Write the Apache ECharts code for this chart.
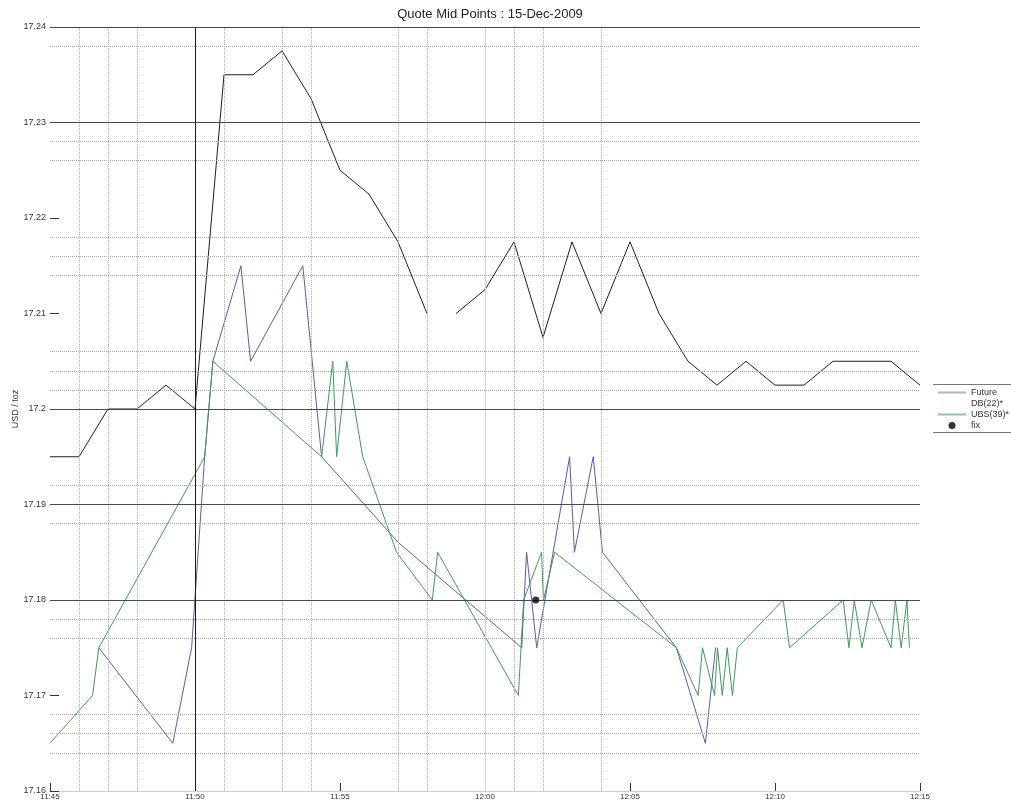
<!DOCTYPE html>
<html>
<head>
<meta charset="utf-8">
<script src="https://cdn.jsdelivr.net/npm/echarts@6/dist/echarts.min.js"></script>
<style>
  html, body { margin: 0; padding: 0; background: #fff; }
  #chart { width: 1011px; height: 803px; }
</style>
</head>
<body>
<div id="chart"></div>
<script>
// Futures mid price, one quote per minute (null = no quote)
const futureTimes = ['11:45:00','11:46:00','11:47:00','11:48:00','11:49:00','11:50:00','11:51:00','11:52:00',
  '11:53:00','11:54:00','11:55:00','11:56:00','11:57:00','11:58:00','11:58:30','11:59:00','12:00:00','12:01:00',
  '12:02:00','12:03:00','12:04:00','12:05:00','12:06:00','12:07:00','12:08:00','12:09:00','12:10:00','12:11:00',
  '12:12:00','12:13:00','12:14:00','12:15:00'];
const futureValues = [17.195,17.195,17.2,17.2,17.2025,17.2,17.235,17.235,
  17.2375,17.2325,17.225,17.2225,17.2175,17.21,null,17.21,17.2125,17.2175,
  17.2075,17.2175,17.21,17.2175,17.21,17.205,17.2025,17.205,17.2025,17.2025,
  17.205,17.205,17.205,17.2025];

// DB quote mid points
const dbTimes = ['11:46:41','11:49:14','11:49:53','11:50:20','11:50:37','11:51:35','11:51:55','11:53:43',
  '11:54:22','11:57:01','12:01:16','12:01:26','12:01:47','12:02:55','12:03:05','12:03:44','12:04:03',
  '12:06:36','12:07:36','12:07:57'];
const dbValues = [17.175,17.165,17.175,17.195,17.205,17.215,17.205,17.215,
  17.195,17.186,17.175,17.185,17.175,17.195,17.185,17.195,17.185,
  17.175,17.165,17.175];

// UBS quote mid points
const ubsTimes = ['11:45:00','11:46:28','11:46:41','11:50:20','11:50:37','11:54:22','11:54:45','11:54:53',
  '11:55:14','11:55:47','11:56:57','11:58:11','11:58:22','12:01:09','12:01:20','12:01:57','12:02:01',
  '12:02:24','12:06:36','12:07:21','12:07:30','12:07:55','12:08:01','12:08:11','12:08:21','12:08:32',
  '12:08:42','12:10:17','12:10:30','12:12:21','12:12:33','12:12:44','12:13:00','12:13:19','12:14:00',
  '12:14:09','12:14:21','12:14:33','12:14:38'];
const ubsValues = [17.165,17.17,17.175,17.195,17.205,17.195,17.205,17.195,
  17.205,17.195,17.185,17.18,17.185,17.17,17.18,17.185,17.18,
  17.185,17.175,17.17,17.175,17.17,17.175,17.17,17.175,17.17,
  17.175,17.18,17.175,17.18,17.175,17.18,17.175,17.18,17.175,
  17.18,17.175,17.18,17.175];

// Fixing
const fixTime = '12:01:45';
const fixValue = 17.18;

// Axis ranges and reference lines
const xStart = '11:45', xEnd = '12:15', xStepMinutes = 5;
const yMin = 17.16, yMax = 17.24, yStep = 0.01;
const solidLevels = [17.24, 17.23, 17.2, 17.19, 17.18];
const dottedLevels = [17.238, 17.228, 17.226, 17.218, 17.216, 17.214, 17.206, 17.204, 17.202,
  17.192, 17.188, 17.178, 17.176, 17.168, 17.166, 17.164];
const dottedMinutes = ['11:46','11:47','11:48','11:51','11:53','11:54','11:57','11:58','12:01','12:02','12:04'];
const markerMinute = '11:50';
const noonMinute = '12:00';

function toMin(s) {
  const p = s.split(':').map(Number);
  return p[0] * 60 + p[1] + (p[2] || 0) / 60;
}
function fmtMin(v) {
  const h = Math.floor(v / 60 + 1e-9), m = Math.round(v - h * 60);
  return h + ':' + String(m).padStart(2, '0');
}
function pairs(times, values) {
  return times.map((t, i) => [toMin(t), values[i] === null ? '-' : values[i]]);
}

const FONT = 'Arial, "Liberation Sans", sans-serif';

const markData = [];
dottedLevels.forEach(v => markData.push({ yAxis: v, lineStyle: { color: '#a0a0a0', width: 1, type: [1, 1] } }));
dottedMinutes.forEach(t => markData.push({ xAxis: toMin(t), lineStyle: { color: '#b0b0b0', width: 1, type: [1, 1] } }));
markData.push({ xAxis: toMin(noonMinute), lineStyle: { color: '#d0d0d0', width: 1, type: 'solid' } });
solidLevels.forEach(v => markData.push({ yAxis: v, lineStyle: { color: '#4a4a4a', width: 1, type: 'solid' } }));
markData.push({ xAxis: toMin(markerMinute), lineStyle: { color: '#1a1a1a', width: 1, type: 'solid' } });

const hidden = { opacity: 0 };

const chart = echarts.init(document.getElementById('chart'), null, { renderer: 'canvas' });
chart.setOption({
  animation: false,
  backgroundColor: '#fff',
  textStyle: { fontFamily: FONT },
  title: {
    text: 'Quote Mid Points : 15-Dec-2009',
    left: 485, top: 3, textAlign: 'center',
    textStyle: { fontSize: 13, fontWeight: 'normal', color: '#222', fontFamily: FONT }
  },
  grid: { left: 50, right: 91, top: 27, bottom: 12, containLabel: false, outerBoundsMode: 'none' },
  legend: {
    orient: 'vertical', left: 937, top: 388, padding: 0,
    itemWidth: 28, itemHeight: 7, itemGap: 2,
    textStyle: { fontSize: 9, color: '#333', fontFamily: FONT },
    data: [
      { name: 'Future', lineStyle: { color: '#b5b5b5' }, itemStyle: hidden },
      { name: 'DB(22)*', lineStyle: hidden, itemStyle: hidden },
      { name: 'UBS(39)*', lineStyle: { color: '#8cc79a' }, itemStyle: hidden },
      { name: 'fix' }
    ]
  },
  graphic: [
    { type: 'line', shape: { x1: 933, y1: 384.5, x2: 1011, y2: 384.5 }, style: { stroke: '#777', lineWidth: 1 }, silent: true },
    { type: 'line', shape: { x1: 933, y1: 432.5, x2: 1011, y2: 432.5 }, style: { stroke: '#777', lineWidth: 1 }, silent: true }
  ],
  xAxis: {
    type: 'value',
    min: toMin(xStart), max: toMin(xEnd), interval: xStepMinutes,
    axisLine: { show: true, lineStyle: { color: '#cfcfcf', width: 1 } },
    axisTick: { show: true, inside: true, length: 8, lineStyle: { color: '#333' } },
    axisLabel: { formatter: v => fmtMin(v), fontSize: 8, color: '#333', margin: 2, fontFamily: FONT },
    splitLine: { show: false }
  },
  yAxis: {
    type: 'value',
    min: yMin, max: yMax, interval: yStep,
    name: 'USD / toz', nameLocation: 'middle', nameGap: 30, nameRotate: 90, nameMoveOverlap: false,
    nameTextStyle: { fontSize: 9, color: '#333', fontFamily: FONT },
    axisLine: { show: false },
    axisTick: { show: true, inside: true, length: 9, lineStyle: { color: '#333' } },
    axisLabel: { fontSize: 9, color: '#333', margin: 4, fontFamily: FONT },
    splitLine: { show: false }
  },
  series: [
    {
      name: 'grid', type: 'line', data: [], z: 1, silent: true,
      markLine: { silent: true, precision: 6, symbol: ['none', 'none'], label: { show: false }, animation: false, data: markData }
    },
    {
      name: 'Future', type: 'line', z: 3, symbol: 'none', connectNulls: false,
      lineStyle: { color: '#1e1e1e', width: 1 }, itemStyle: { color: '#1e1e1e' },
      data: pairs(futureTimes, futureValues)
    },
    {
      name: 'DB(22)*', type: 'line', z: 3, symbol: 'none',
      lineStyle: { color: '#5a5aae', width: 1 }, itemStyle: { color: '#5a5aae' },
      data: pairs(dbTimes, dbValues)
    },
    {
      name: 'UBS(39)*', type: 'line', z: 4, symbol: 'none',
      lineStyle: { color: '#3f9a5a', width: 1 }, itemStyle: { color: '#3f9a5a' },
      data: pairs(ubsTimes, ubsValues)
    },
    {
      name: 'fix', type: 'scatter', z: 5, symbol: 'circle', symbolSize: 7,
      itemStyle: { color: '#000' },
      data: [[toMin(fixTime), fixValue]]
    }
  ]
});
</script>
</body>
</html>
